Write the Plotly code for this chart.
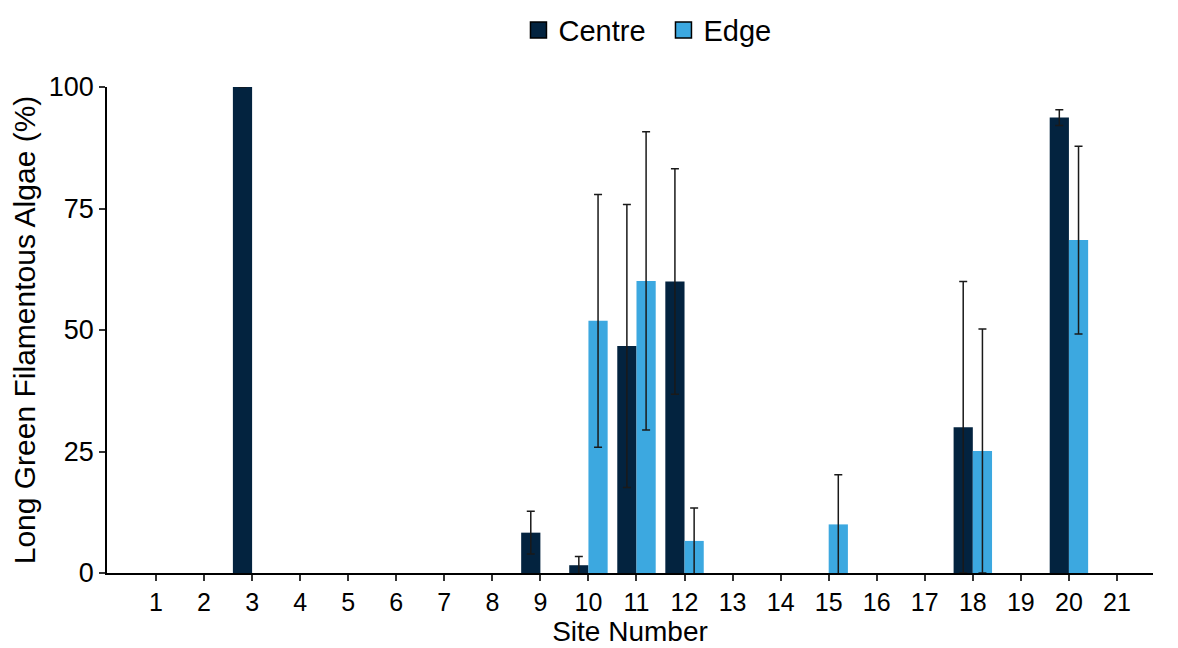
import plotly.graph_objects as go

sites = list(range(1, 22))
centre = [0, 0, 100, 0, 0, 0, 0, 0, 8.3, 1.6, 46.7, 60.0, 0, 0, 0, 0, 0, 30.0, 0, 93.7, 0]
centre_err = [None, None, None, None, None, None, None, None, 4.4, 1.8, 29.1, 23.2,
              None, None, None, None, None, 30.0, None, 1.6, None]
edge = [0, 0, 0, 0, 0, 0, 0, 0, 0, 51.9, 60.1, 6.6, 0, 0, 10.0, 0, 0, 25.1, 0, 68.5, 0]
edge_err = [None, None, None, None, None, None, None, None, None, 26.0, 30.7, 6.8,
            None, None, 10.2, None, None, 25.1, None, 19.3, None]

CENTRE_COL = "#03233f"
EDGE_COL = "#3ca8e0"
FONT = "Liberation Sans, Arial, sans-serif"


def nz(vals):
    # zero-height bars are not drawn
    return [v if v else None for v in vals]


fig = go.Figure()
fig.add_trace(go.Bar(
    x=sites, y=nz(centre), name="Centre", marker=dict(color=CENTRE_COL, line=dict(width=0)),
    error_y=dict(type="data", array=centre_err, visible=True, color="#1a1a1a", thickness=1.5, width=4),
    showlegend=False,
))
fig.add_trace(go.Bar(
    x=sites, y=nz(edge), name="Edge", marker=dict(color=EDGE_COL, line=dict(width=0)),
    error_y=dict(type="data", array=edge_err, visible=True, color="#1a1a1a", thickness=1.5, width=4),
    showlegend=False,
))
# legend entries
for nm, col in [("Centre", CENTRE_COL), ("Edge", EDGE_COL)]:
    fig.add_trace(go.Scatter(
        x=[None], y=[None], mode="markers", name=nm,
        marker=dict(symbol="square", size=20, color=col, line=dict(color="black", width=1.5)),
        showlegend=True,
    ))

fig.update_layout(
    width=1178, height=648,
    margin=dict(l=99, r=33, t=79, b=83, autoexpand=False),
    paper_bgcolor="white", plot_bgcolor="white",
    barmode="group", bargap=0.2, bargroupgap=0,
    font=dict(family=FONT, color="black"),
    legend=dict(orientation="h", x=0.532, xanchor="center", y=1.117, yanchor="middle",
                font=dict(size=29), itemsizing="trace", itemwidth=30,
                entrywidth=100, entrywidthmode="pixels",
                bgcolor="rgba(0,0,0,0)"),
    xaxis=dict(
        range=[-0.02, 21.75], tickmode="array", tickvals=sites, ticktext=[str(s) for s in sites],
        showline=True, linecolor="black", linewidth=1.5, ticks="outside", ticklen=6,
        tickwidth=1.5, tickcolor="#333333", showgrid=False, zeroline=False,
        tickfont=dict(size=25), title=dict(text="Site Number", font=dict(size=28), standoff=6),
    ),
    yaxis=dict(
        range=[0, 100], tickvals=[0, 25, 50, 75, 100],
        showline=True, linecolor="black", linewidth=1.5, ticks="outside", ticklen=6,
        tickwidth=1.5, tickcolor="#333333", showgrid=False, zeroline=False,
        tickfont=dict(size=27), title=dict(text="Long Green Filamentous Algae (%)", font=dict(size=30), standoff=10),
    ),
)

fig.write_html("out.html")
